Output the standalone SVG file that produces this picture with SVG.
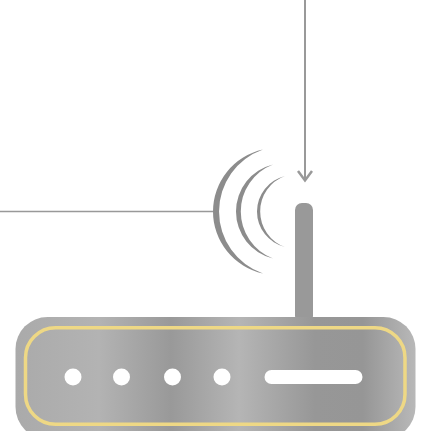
<svg xmlns="http://www.w3.org/2000/svg" width="425" height="431" viewBox="0 0 425 431">
<defs>
<linearGradient id="metal" gradientUnits="userSpaceOnUse" x1="15" y1="0" x2="415" y2="0">
<stop offset="0" stop-color="#aaaaaa"/><stop offset="0.21" stop-color="#b3b3b3"/><stop offset="0.39" stop-color="#999999"/><stop offset="0.56" stop-color="#b5b5b5"/><stop offset="0.75" stop-color="#979797"/><stop offset="0.87" stop-color="#969696"/><stop offset="1" stop-color="#b8b8b8"/>
</linearGradient>
<style>
.line{fill:none;stroke:#999999;stroke-width:1.5}
.arrow{fill:none;stroke:#999999;stroke-width:2}
.head{fill:none;stroke:#999999;stroke-width:2.500}
.wave{fill:#8c8c8c}
.hole{fill:#ffffff}
</style>
</defs>
<g id="connectors">
<path class="line" d="M0 211.500H213"/>
<path class="arrow" d="M305 0V180"/>
<path class="head" d="M298 171L305 180.500L312 171"/>
</g>
<g id="signal">
<path class="wave" d="M263 149.500A63.440 63.440 0 0 0 263 273.500A65.700 65.700 0 0 1 263 149.500Z"/>
<path class="wave" d="M273 164.500A48.350 48.350 0 0 0 273 258.500A50.400 50.400 0 0 1 273 164.500Z"/>
<path class="wave" d="M285 176A36.500 36.500 0 0 0 285 247A37.800 37.800 0 0 1 285 176Z"/>
</g>
<g id="router">
<rect x="295" y="203" width="18" height="120" rx="7" fill="#999999"/>
<rect x="15.500" y="317" width="400" height="122" rx="32" fill="url(#metal)"/>
<rect x="25.500" y="327.700" width="379.500" height="96.500" rx="30" fill="none" stroke="#eed885" stroke-width="3.500"/>
<circle class="hole" cx="73" cy="377" r="8.500"/>
<circle class="hole" cx="121.500" cy="377" r="8.500"/>
<circle class="hole" cx="172.500" cy="377" r="8.500"/>
<circle class="hole" cx="222" cy="377" r="8.500"/>
<rect class="hole" x="264.500" y="370" width="98" height="14" rx="7"/>
</g>
</svg>
